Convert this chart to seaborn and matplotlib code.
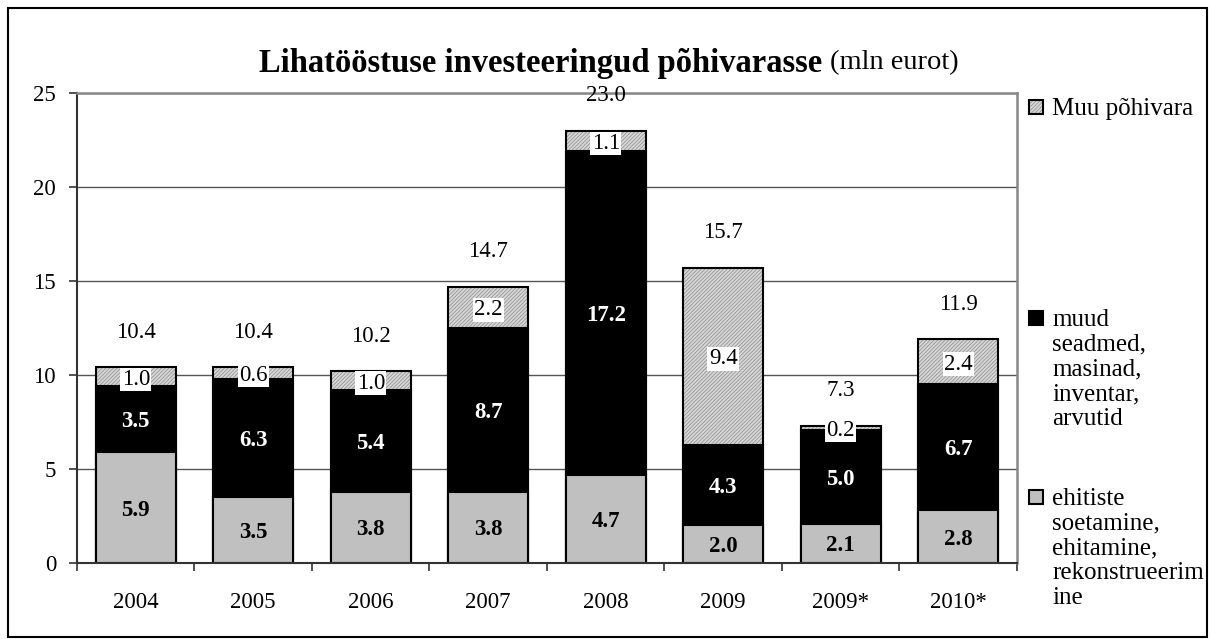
import matplotlib
matplotlib.use('Agg')
import matplotlib.pyplot as plt
import seaborn as sns
import numpy as np
import pandas as pd
from matplotlib.patches import Rectangle

categories = ['2004', '2005', '2006', '2007', '2008', '2009', '2009*', '2010*']
buildings = [5.9, 3.5, 3.8, 3.8, 4.7, 2.0, 2.1, 2.8]
machinery = [3.5, 6.3, 5.4, 8.7, 17.2, 4.3, 5.0, 6.7]
other = [1.0, 0.6, 1.0, 2.2, 1.1, 9.4, 0.2, 2.4]
totals = [10.4, 10.4, 10.2, 14.7, 23.0, 15.7, 7.3, 11.9]
yticks = [0, 5, 10, 15, 20, 25]
series_names = ['Muu põhivara',
                'muud\nseadmed,\nmasinad,\ninventar,\narvutid',
                'ehitiste\nsoetamine,\nehitamine,\nrekonstrueerim\nine']

sns.set_theme(style='white')
plt.rcParams['font.family'] = ['Liberation Serif', 'DejaVu Serif']
plt.rcParams['hatch.linewidth'] = 0.5

W, H = 1210, 639
fig = plt.figure(figsize=(W / 100, H / 100), dpi=100)
ax = fig.add_axes([77 / W, 1 - 563 / H, 940 / W, 470 / H])

b = np.array(buildings)
m = np.array(machinery)
o = np.array(other)
df = pd.DataFrame({'cat': categories, 'top': b + m + o, 'mid': b + m, 'bot': b})

C_TOP, C_HATCH, C_BOT = '#d6d6d6', '#8c8c8c', '#c0c0c0'
HATCH = '/////////'
bw = 0.68
sns.barplot(data=df, x='cat', y='top', color=C_TOP, saturation=1, width=bw, ax=ax,
            edgecolor=C_HATCH, linewidth=0, hatch=HATCH)
sns.barplot(data=df, x='cat', y='top', color='black', fill=False, width=bw, ax=ax,
            linewidth=1.5)
sns.barplot(data=df, x='cat', y='mid', color='black', saturation=1, width=bw, ax=ax,
            edgecolor='black', linewidth=1.5)
sns.barplot(data=df, x='cat', y='bot', color=C_BOT, saturation=1, width=bw, ax=ax,
            edgecolor='black', linewidth=1.5)

ax.set_xlabel('')
ax.set_ylabel('')
ax.set_xlim(-0.5, len(categories) - 0.5)
ax.set_ylim(0, 25)
ax.set_yticks(yticks)
ax.set_yticklabels([str(t) for t in yticks])
ax.set_axisbelow(True)
ax.yaxis.grid(True, color='#555555', lw=1)

ax.set_xticks(range(len(categories)))
ax.set_xticklabels(categories)
ax.set_xticks(np.arange(-0.5, len(categories), 1), minor=True)
ax.tick_params(axis='x', which='major', length=0, pad=21, labelsize=16.5, colors='black')
ax.tick_params(axis='x', which='minor', bottom=True, length=6, width=1.2, color='#333333', direction='out')
ax.tick_params(axis='y', which='major', left=True, length=6, width=1.2, color='#333333',
               direction='out', pad=9, labelsize=16.5, labelcolor='black')

for s in ['left', 'bottom']:
    ax.spines[s].set_color('#333333')
    ax.spines[s].set_linewidth(1.5)
for s in ['top', 'right']:
    ax.spines[s].set_color('#888888')
    ax.spines[s].set_linewidth(1.8)

fs = 16.5
for i in range(len(categories)):
    ax.text(i, b[i] / 2, f'{b[i]:.1f}', ha='center', va='center_baseline',
            fontsize=fs, fontweight='bold', color='black')
    ax.text(i, b[i] + m[i] / 2, f'{m[i]:.1f}', ha='center', va='center_baseline',
            fontsize=fs, fontweight='bold', color='white')
    ax.text(i, b[i] + m[i] + o[i] / 2, f'{o[i]:.1f}', ha='center', va='center_baseline',
            fontsize=fs, color='black',
            bbox=dict(facecolor='white', edgecolor='none', pad=1.0))
    ax.text(i, totals[i] + 2.0, f'{totals[i]:.1f}', ha='center', va='center_baseline',
            fontsize=fs, color='black')

# legend (manual layout to match first-line alignment)
leg_y = [107, 318, 497]
leg_styles = [dict(facecolor=C_TOP, hatch=HATCH, edgecolor=C_HATCH),
              dict(facecolor='black', edgecolor='black'),
              dict(facecolor=C_BOT, edgecolor='black')]
for y, name, st in zip(leg_y, series_names, leg_styles):
    fig.add_artist(Rectangle((1029 / W, 1 - (y + 7) / H), 14 / W, 14 / H,
                             transform=fig.transFigure, lw=0, **st))
    fig.add_artist(Rectangle((1029 / W, 1 - (y + 7) / H), 14 / W, 14 / H,
                             transform=fig.transFigure, fill=False, edgecolor='black', lw=1.5))
    fig.text(1052 / W, 1 - (y - 9) / H, name, ha='left', va='top',
             fontsize=18, linespacing=1.16, color='black')

# title
fig.text(822 / W, 1 - 60 / H, 'Lihatööstuse investeeringud põhivarasse', ha='right',
         va='center_baseline', fontsize=23.5, fontweight='bold', color='black')
fig.text(830 / W, 1 - 60 / H, '(mln eurot)', ha='left', va='center_baseline',
         fontsize=20.5, color='black')

# outer frame
fig.add_artist(Rectangle((8 / W, 2 / H), (1207 - 8) / W, (637 - 8) / H,
                         transform=fig.transFigure, fill=False, edgecolor='black', lw=1.5))

fig.savefig('out.png', dpi=100)
